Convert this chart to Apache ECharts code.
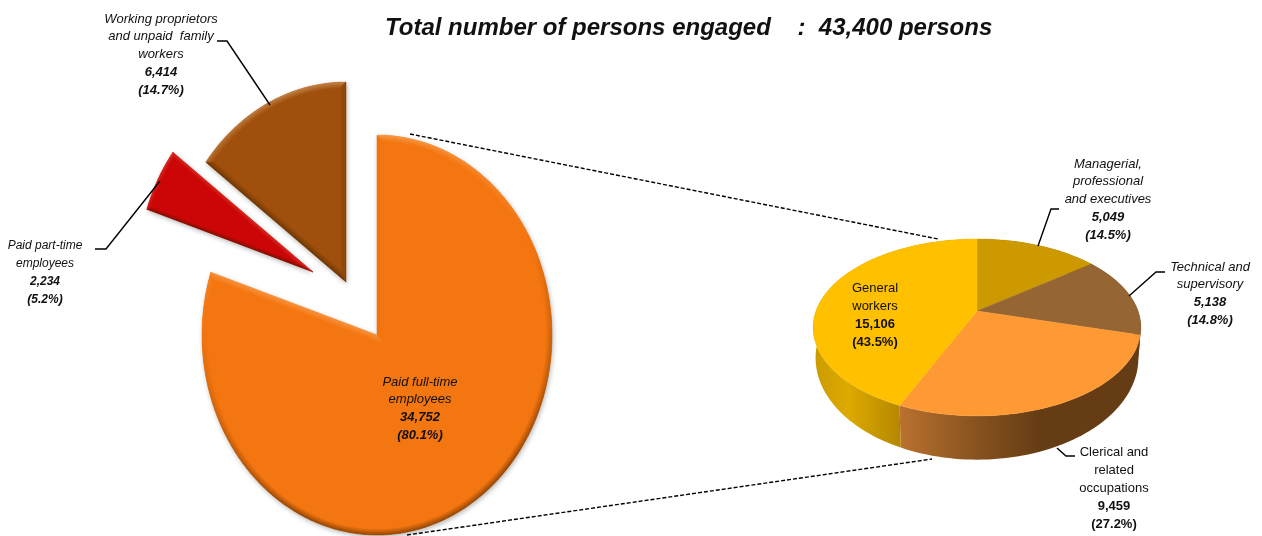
<!DOCTYPE html>
<html>
<head>
<meta charset="utf-8">
<title>Persons engaged</title>
<script src="https://cdn.jsdelivr.net/npm/echarts@6/dist/echarts.min.js"></script>
<style>
  html, body { margin: 0; padding: 0; background: #fff; }
  #chart { width: 1262px; height: 536px; }
</style>
</head>
<body>
<div id="chart"></div>
<script>
// ---- data ----
const titleText = "Total number of persons engaged    :  43,400 persons";

const engagedNames = [["Paid full-time", "employees"], ["Paid part-time", "employees"], ["Working proprietors", "and unpaid  family", "workers"]];
const engagedValues = [34752, 2234, 6414];
const engagedPercents = ["(80.1%)", "(5.2%)", "(14.7%)"];

const occupationNames = [["Managerial,", "professional", "and executives"], ["Technical and", "supervisory"], ["Clerical and", "related", "occupations"], ["General", "workers"]];
const occupationValues = [5049, 5138, 9459, 15106];
const occupationPercents = ["(14.5%)", "(14.8%)", "(27.2%)", "(43.5%)"];

// ---- layout and colours ----
const engagedColors = ["#F47610", "#CC0606", "#A0500C"];
const engagedCenters = [[377, 335], [313, 272], [346, 282]];
const engagedRx = 175, engagedRy = 200;
const bevelWidths = [6, 4, 6];

const occupationColors = ["#CC9900", "#956633", "#FF9933", "#FFC000"];
const wallStops = [
  [[0, "#8a6800"], [1, "#8a6800"]],
  [[0, "#6b4518"], [1, "#5e3a12"]],
  [[0, "#BA712E"], [0.5, "#8A5520"], [1, "#663C14"]],
  [[0, "#C99B00"], [0.4, "#DDAA00"], [1, "#B58700"]]
];
const wallRanges = [[977, 1090], [1090, 1142], [900, 1040], [813, 900]];

// perspective of the small pie
const pieX = 977, pieY = 311, pieA = 85.4, pieB = 161, pieK = 0.186;

const engagedLabels = [[420, 373], [45, 237], [161, 10]];
const engagedFontSizes = [13, 12, 13];
const occupationLabels = [[1108, 155], [1210, 258], [1114, 444], [875, 280]];
const uprightOccupation = [false, false, true, true];

const leaders = [
  [[217, 41], [227, 41], [270, 105]],
  [[95, 249], [106, 249], [160, 181]],
  [[1059, 209], [1051, 209], [1038, 246]],
  [[1165, 272], [1156, 272], [1129, 296]],
  [[1075, 456], [1066, 456], [1057, 448]]
];
const connectors = [
  [[410, 134], [938, 239]],
  [[407, 535], [932, 459]]
];

function sum(arr) {
  return arr.reduce((a, b) => a + b, 0);
}

// start and end angle of slice i, clockwise from 12 o'clock
function sliceAngles(values, i) {
  const total = sum(values);
  const before = sum(values.slice(0, i));
  return [before / total * Math.PI * 2, (before + values[i]) / total * Math.PI * 2];
}

function mix(hex, target, t) {
  const a = echarts.color.parse(hex), b = echarts.color.parse(target);
  return "rgb(" + [0, 1, 2].map((k) => Math.round(a[k] + (b[k] - a[k]) * t)).join(",") + ")";
}

// move each vertex of a closed polygon inwards by d
function insetPolygon(pts, d) {
  let area = 0;
  pts.forEach((p, i) => {
    const q = pts[(i + 1) % pts.length];
    area += p[0] * q[1] - q[0] * p[1];
  });
  const sign = area > 0 ? 1 : -1;
  return pts.map((p, i) => {
    const prev = pts[(i - 1 + pts.length) % pts.length];
    const next = pts[(i + 1) % pts.length];
    const l1 = Math.hypot(p[0] - prev[0], p[1] - prev[1]);
    const l2 = Math.hypot(next[0] - p[0], next[1] - p[1]);
    const n1 = [-(p[1] - prev[1]) / l1 * sign, (p[0] - prev[0]) / l1 * sign];
    const n2 = [-(next[1] - p[1]) / l2 * sign, (next[0] - p[0]) / l2 * sign];
    let mx = n1[0] + n2[0], my = n1[1] + n2[1];
    const ml = Math.hypot(mx, my) || 1;
    mx /= ml;
    my /= ml;
    const cos = Math.max(mx * n1[0] + my * n1[1], 0.125);
    return [p[0] + mx * d / cos, p[1] + my * d / cos];
  });
}

function renderEngaged(params, api) {
  const i = params.dataIndex;
  const angles = sliceAngles(engagedValues, i);
  const c = engagedCenters[i];
  const pts = [c];
  const steps = Math.ceil((angles[1] - angles[0]) / 0.035);
  for (let s = 0; s <= steps; s++) {
    const t = angles[0] + (angles[1] - angles[0]) * s / steps;
    pts.push([c[0] + engagedRx * Math.sin(t), c[1] - engagedRy * Math.cos(t)]);
  }
  const base = engagedColors[i];
  const children = [{
    type: "polygon",
    shape: { points: pts },
    style: { fill: base, shadowBlur: 5, shadowOffsetX: 1, shadowOffsetY: 2, shadowColor: "rgba(0,0,0,0.3)" }
  }];
  // bevel: rings of small quads shaded by which way the edge faces
  const rings = 4;
  let outer = pts;
  for (let r = 1; r <= rings; r++) {
    const inner = insetPolygon(pts, bevelWidths[i] * r / rings);
    const strength = 1 - (r - 1) / rings;
    pts.forEach((p, k) => {
      const q = pts[(k + 1) % pts.length];
      const l = Math.hypot(q[0] - p[0], q[1] - p[1]);
      const nx = (q[1] - p[1]) / l, ny = -(q[0] - p[0]) / l; // outward, pts run clockwise on screen
      const dot = Math.max(-1, -ny - 0.25 - 0.2 * nx);
      const amount = Math.abs(dot) * strength;
      const color = dot > 0 ? mix(base, "#FFD9B0", amount * 0.45) : mix(base, "#3a1c00", amount * 0.5);
      const k2 = (k + 1) % pts.length;
      children.push({
        type: "polygon",
        shape: { points: [outer[k], outer[k2], inner[k2], inner[k]] },
        style: { fill: color, stroke: color, lineWidth: 0.5 }
      });
    });
    outer = inner;
  }
  children.push({
    type: "polygon",
    shape: { points: outer },
    style: { fill: base, stroke: base, lineWidth: 0.5 }
  });
  return { type: "group", children: children };
}

// circle point seen in perspective
function topPoint(t) {
  const u = Math.sin(t), v = Math.cos(t);
  const w = 1 + pieK * v;
  return [pieX + pieB * u / w, pieY - pieA * v / w];
}

// same point on the lower rim of the small pie
function bottomPoint(t) {
  const p = topPoint(t);
  return [pieX + (p[0] - pieX) * 0.985, 358 + (p[1] - 327.5) * 1.15];
}

function renderWalls(params, api) {
  const i = params.dataIndex;
  const angles = sliceAngles(occupationValues, i);
  const steps = Math.ceil((angles[1] - angles[0]) / 0.03);
  const upper = [], lower = [];
  for (let s = 0; s <= steps; s++) {
    const t = angles[0] + (angles[1] - angles[0]) * s / steps;
    upper.push(topPoint(t));
    lower.push(bottomPoint(t));
  }
  const range = wallRanges[i];
  return {
    type: "polygon",
    shape: { points: upper.concat(lower.reverse()) },
    style: {
      fill: new echarts.graphic.LinearGradient(range[0], 0, range[1], 0,
        wallStops[i].map((s) => ({ offset: s[0], color: s[1] })), true)
    }
  };
}

function renderTops(params, api) {
  const i = params.dataIndex;
  const angles = sliceAngles(occupationValues, i);
  const steps = Math.ceil((angles[1] - angles[0]) / 0.03);
  const pts = [[pieX, pieY]];
  for (let s = 0; s <= steps; s++) {
    pts.push(topPoint(angles[0] + (angles[1] - angles[0]) * s / steps));
  }
  const color = occupationColors[i];
  return {
    type: "polygon",
    shape: { points: pts },
    style: { fill: color, stroke: color, lineWidth: 0.4 }
  };
}

function formatNumber(n) {
  return n.toLocaleString("en-US");
}

function labelText(pos, lines, value, percent, upright, fontSize) {
  const style = upright ? "u" : "i";
  const bold = upright ? "ub" : "ib";
  const text = lines.map((l) => "{" + style + "|" + l + "}")
    .concat(["{" + bold + "|" + formatNumber(value) + "}", "{" + bold + "|" + percent + "}"])
    .join("\n");
  const font = { fontFamily: "Liberation Sans", fontSize: fontSize, lineHeight: 17.8, fill: "#111", align: "center" };
  return {
    type: "text",
    x: pos[0],
    y: pos[1],
    z: 20,
    silent: true,
    style: {
      text: text,
      align: "center",
      verticalAlign: "top",
      rich: {
        i: Object.assign({}, font, { fontStyle: "italic" }),
        ib: Object.assign({}, font, { fontStyle: "italic", fontWeight: "bold" }),
        u: Object.assign({}, font),
        ub: Object.assign({}, font, { fontWeight: "bold" })
      }
    }
  };
}

function lineElement(points, dashed) {
  return {
    type: "polyline",
    z: dashed ? 1 : 15,
    silent: true,
    shape: { points: points },
    style: {
      fill: null,
      stroke: "#000",
      lineWidth: 1.4,
      lineDash: dashed ? [4, 2] : null
    }
  };
}

const graphics = [];
connectors.forEach((c) => graphics.push(lineElement(c, true)));
leaders.forEach((l) => graphics.push(lineElement(l, false)));
engagedValues.forEach((v, i) => {
  graphics.push(labelText(engagedLabels[i], engagedNames[i], v, engagedPercents[i], false, engagedFontSizes[i]));
});
occupationValues.forEach((v, i) => {
  graphics.push(labelText(occupationLabels[i], occupationNames[i], v, occupationPercents[i], uprightOccupation[i], 13));
});

const myChart = echarts.init(document.getElementById("chart"), null, { renderer: "canvas" });

myChart.setOption({
  animation: false,
  backgroundColor: "#fff",
  title: {
    text: titleText,
    left: 380,
    top: 11,
    textStyle: { fontFamily: "Liberation Sans", fontSize: 24, fontWeight: "bold", fontStyle: "italic", color: "#111" }
  },
  graphic: { elements: graphics },
  series: [
    { type: "custom", coordinateSystem: "none", silent: true, z: 5, renderItem: renderEngaged, data: engagedValues },
    { type: "custom", coordinateSystem: "none", silent: true, z: 5, renderItem: renderWalls, data: occupationValues },
    { type: "custom", coordinateSystem: "none", silent: true, z: 6, renderItem: renderTops, data: occupationValues }
  ]
});
</script>
</body>
</html>
